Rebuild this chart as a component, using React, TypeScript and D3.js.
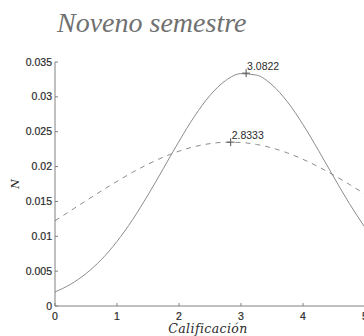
import React from "react";
import * as d3 from "d3";

// Grade axis sample points and the two fitted density curves read at those points
const grades = [0, 0.25, 0.5, 0.75, 1, 1.25, 1.5, 1.75, 2, 2.25, 2.5, 2.75, 3, 3.25, 3.5, 3.75, 4, 4.25, 4.5, 4.75, 5];
const solidDensity = [0.00201, 0.00311, 0.00465, 0.00668, 0.00926, 0.01237, 0.01593, 0.01976, 0.02362, 0.02721, 0.03021, 0.03233, 0.03333, 0.03312, 0.03172, 0.02927, 0.02603, 0.02231, 0.01843, 0.01467, 0.01125];
const dashedDensity = [0.01223, 0.01366, 0.0151, 0.01651, 0.01788, 0.01917, 0.02034, 0.02136, 0.02221, 0.02286, 0.02329, 0.02349, 0.02345, 0.02317, 0.02267, 0.02195, 0.02104, 0.01996, 0.01875, 0.01743, 0.01604];

// Peak markers (mean, density) with their labels
const peaks = [
  { x: 3.0822, y: 0.0334, label: "3.0822" },
  { x: 2.8333, y: 0.0235, label: "2.8333" },
];

const xTicks = [0, 1, 2, 3, 4, 5];
const yTicks = [0, 0.005, 0.01, 0.015, 0.02, 0.025, 0.03, 0.035];
const yTickLabels = ["0", "0.005", "0.01", "0.015", "0.02", "0.025", "0.03", "0.035"];

export default function App() {
  const W = 364;
  const H = 336;
  const x = d3.scaleLinear().domain([0, 5]).range([55, 365]);
  const y = d3.scaleLinear().domain([0, 0.035]).range([306, 62]);

  const line = d3
    .line<number>()
    .x((_, i) => x(grades[i]))
    .y((v) => y(v))
    .curve(d3.curveMonotoneX);

  const axisColor = "#808080";
  const curveColor = "#8c8c8c";
  const textColor = "#2a2a2a";
  const tickFont = "Liberation Sans, Arial, sans-serif";

  return (
    <svg
      width={W}
      height={H}
      style={{ position: "absolute", left: 0, top: 0, background: "#fff" }}
    >
      <text
        x={57}
        y={32}
        fontFamily="Liberation Serif, serif"
        fontStyle="italic"
        fontSize={28}
        fill="#707070"
      >
        Noveno semestre
      </text>

      {/* curves */}
      <path d={line(solidDensity) ?? ""} fill="none" stroke={curveColor} strokeWidth={1} />
      <path
        d={line(dashedDensity) ?? ""}
        fill="none"
        stroke={curveColor}
        strokeWidth={1}
        strokeDasharray="5,5"
      />

      {/* axes */}
      <line x1={x(0)} x2={x(0)} y1={y(0.035)} y2={y(0)} stroke={axisColor} strokeWidth={1} />
      <line x1={x(0)} x2={W} y1={y(0)} y2={y(0)} stroke={axisColor} strokeWidth={1} />

      {yTicks.map((t, i) => (
        <g key={"y" + i}>
          <line x1={x(0)} x2={x(0) + 3} y1={y(t)} y2={y(t)} stroke={axisColor} />
          <text
            x={x(0) - 3}
            y={y(t) + 3.5}
            textAnchor="end"
            fontFamily={tickFont}
            fontSize={10.5}
            fill={textColor}
            stroke={textColor}
            strokeWidth={0.2}
          >
            {yTickLabels[i]}
          </text>
        </g>
      ))}
      {xTicks.map((t) => (
        <g key={"x" + t}>
          <line x1={x(t)} x2={x(t)} y1={y(0)} y2={y(0) - 3} stroke={axisColor} />
          <text
            x={x(t)}
            y={320}
            textAnchor="middle"
            fontFamily={tickFont}
            fontSize={10.5}
            fill={textColor}
            stroke={textColor}
            strokeWidth={0.2}
          >
            {t}
          </text>
        </g>
      ))}

      {/* peak markers */}
      {peaks.map((p) => (
        <g key={p.label}>
          <line x1={x(p.x) - 4} x2={x(p.x) + 4} y1={y(p.y)} y2={y(p.y)} stroke="#555" />
          <line x1={x(p.x)} x2={x(p.x)} y1={y(p.y) - 4} y2={y(p.y) + 4} stroke="#555" />
          <text
            x={x(p.x) + 1}
            y={y(p.y) - 3}
            fontFamily={tickFont}
            fontSize={10.5}
            fill={textColor}
          >
            {p.label}
          </text>
        </g>
      ))}

      {/* axis labels */}
      <text
        x={208}
        y={333}
        textAnchor="middle"
        fontFamily="DejaVu Serif, serif"
        fontStyle="italic"
        fontSize={12.5}
        letterSpacing={0.4}
        fill={textColor}
      >
        Calificación
      </text>
      <text
        transform="translate(19,184) rotate(-90)"
        textAnchor="middle"
        fontFamily="DejaVu Serif, serif"
        fontStyle="italic"
        fontSize={11}
        fill={textColor}
      >
        N
      </text>
    </svg>
  );
}
